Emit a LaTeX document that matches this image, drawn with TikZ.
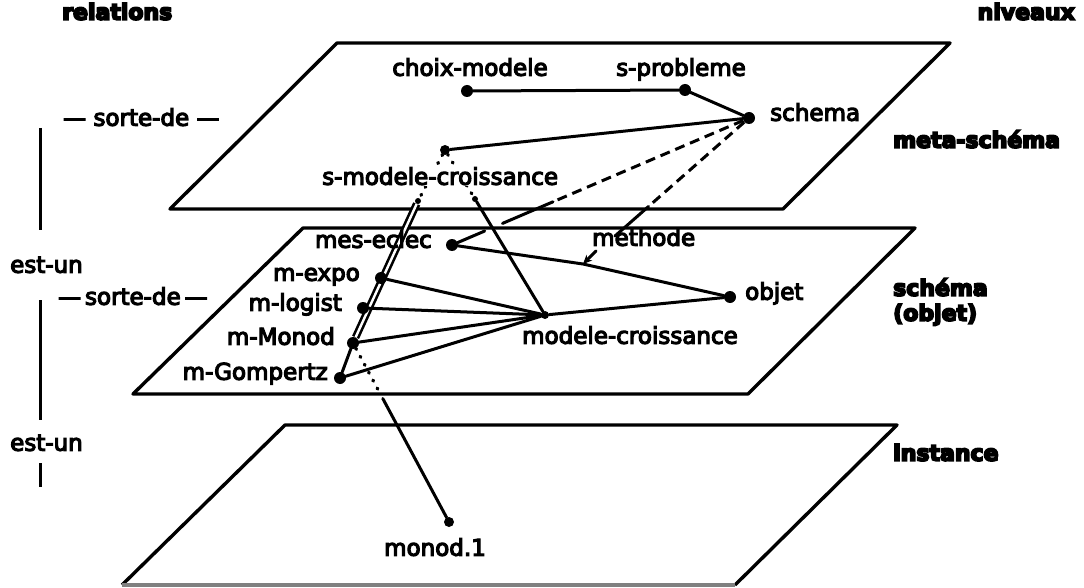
\documentclass[tikz,border=0pt]{standalone}
\usepackage{fontspec}
\setmainfont{DejaVu Sans}
\newfontfamily\lblfont{DejaVu Sans}[FakeBold=5]
\newfontfamily\hdrfont{DejaVu Sans Bold}[FakeBold=8]
\usetikzlibrary{arrows.meta,calc}
\pgfdeclarelayer{bg}
\pgfsetlayers{bg,main}
\begin{document}
\begin{tikzpicture}[x=1pt,y=-1pt,
  plane/.style={line width=3.4pt, line join=round},
  conn/.style={line width=3pt, line cap=round},
  dot/.style={circle, fill, inner sep=0pt, minimum size=12pt},
  sdot/.style={circle, fill, inner sep=0pt, minimum size=6pt},
  lbl/.style={font=\lblfont\fontsize{23}{27}\selectfont, inner sep=0pt},
  hdr/.style={font=\hdrfont\fontsize{22}{26}\selectfont, inner sep=0pt},
  dsh/.style={line width=3pt, dash pattern=on 10pt off 6pt},
  dtt/.style={line width=3.4pt, line cap=round, dash pattern=on 1pt off 8pt},
  dbl/.style={line width=2.6pt, double, double distance=2.4pt},
  sidebar/.style={line width=3pt}
]
\useasboundingbox (0,0) rectangle (1084,588);

% headers
\node[hdr,anchor=mid west] (hRel) at (62,17) {relations};
\node[hdr,anchor=mid east] (hNiv) at (1075,17) {niveaux};
\node[hdr,anchor=mid west] (hMeta) at (893,145) {meta-schéma};
\node[hdr,anchor=mid west] (hSch) at (893,293) {schéma};
\node[hdr,anchor=mid west] (hObj) at (893,318) {(objet)};
\node[hdr,anchor=mid west] (hInst) at (893,458) {instance};

% left relations
\node[lbl,anchor=mid west] (sd1) at (63,123) {— sorte-de —};
\node[lbl,anchor=mid west] (eu1) at (10,270) {est-un};
\node[lbl,anchor=mid west] (sd2) at (58,302) {—\,sorte-de\,—};
\node[lbl,anchor=mid west] (eu2) at (10,448) {est-un};
\coordinate (v1a) at (40,128); \coordinate (v1b) at (40,230);
\coordinate (v2a) at (40,300); \coordinate (v2b) at (40,420);
\coordinate (v3a) at (40,463); \coordinate (v3b) at (40,487);

% dots
\node[dot] (cm) at (467,91) {};
\node[dot] (sp) at (685,90) {};
\node[dot] (sch) at (749,118) {};
\node[dot,minimum size=10pt] (smU) at (445,150) {};
\node[sdot] (smL) at (418,201) {};
\node[sdot] (smR) at (475,199) {};
\node[dot] (mes) at (452,245) {};
\node[dot] (mexpo) at (381,278) {};
\node[dot] (mlog) at (363,308) {};
\node[dot] (mmon) at (353,343) {};
\node[dot] (mgom) at (340,378) {};
\node[dot,minimum size=8pt] (mc) at (545,315) {};
\node[dot] (obj) at (730,297) {};
\node[dot,minimum size=10pt] (mon1) at (449,522) {};

% labels
\node[lbl,anchor=mid] (cmL) at (470,73) {choix-modele};
\node[lbl,anchor=mid] (spL) at (681,73) {s-probleme};
\node[lbl,anchor=mid west] (schL) at (770,118) {schema};
\node[lbl,anchor=mid west,fill=white,inner sep=1pt] (smLbl) at (321,182) {s-modele-croissance};
\node[lbl,anchor=mid east] (mesL) at (432,245) {mes-eclec};
\node[lbl,anchor=mid east] (mexpoL) at (360,278) {m-expo};
\node[lbl,anchor=mid east] (mlogL) at (342,308) {m-logist};
\node[lbl,anchor=mid east] (mmonL) at (335,342) {m-Monod};
\node[lbl,anchor=mid east] (mgomL) at (328,377) {m-Gompertz};
\node[lbl,anchor=mid west] (mcL) at (522,341) {modele-croissance};
\node[lbl,anchor=mid west] (objL) at (745,297) {objet};
\node[lbl,anchor=mid west] (methL) at (592,243) {methode};
\node[lbl,anchor=mid] (mon1L) at (435,553) {monod.1};

% helper coordinates
\coordinate (mtop) at (615,236);
\coordinate (mk) at (583,264);
\coordinate (mtick) at (596,251);
\coordinate (dA) at ($(sch)!0.66!(mes)$);
\coordinate (dB) at ($(sch)!0.83!(mes)$);
\coordinate (dC) at ($(sch)!0.89!(mes)$);
\coordinate (dD) at ($(sch)!0.75!(mtop)$);
\coordinate (dE) at ($(mmon)!0.27!(mon1)$);
\coordinate (dF) at ($(mmon)!0.31!(mon1)$);

\begin{pgfonlayer}{bg}
% planes
\draw[plane] (337,43) -- (950,43) -- (783,209) -- (170,209) -- cycle;
\draw[plane] (303,228) -- (915,228) -- (748,394) -- (133,394) -- cycle;
\draw[plane] (122,585) -- (285,425) -- (897,425) -- (735,585);
\draw[plane,black!50] (735,585) -- (122,585);

% side bars
\draw[sidebar] (v1a) -- (v1b);
\draw[sidebar] (v2a) -- (v2b);
\draw[sidebar] (v3a) -- (v3b);

% meta-schema connectors
\draw[conn] (cm) -- (sp);
\draw[conn] (sp) -- (sch);
\draw[conn] (sch) -- (smU);
\draw[dtt] (smU) -- (smL);
\draw[dtt] (smU) -- (smR);
\draw[dsh] (sch) -- (dA);
\draw[conn] (dA) -- (dB);
\draw[conn] (dC) -- (mes);
\draw[dsh] (sch) -- (dD);
\draw[conn] (dD) -- (mtop);

% schema connectors
\draw[dbl] (smL) -- (mmon);
\draw[conn] (smR) -- (mc);
\draw[conn] (mes) -- (mk) -- (obj);
\draw[conn,-{Stealth[length=9pt,width=8pt]}] (mtick) -- (mk);
\draw[conn] (mexpo) -- (mc);
\draw[conn] (mlog) -- (mc);
\draw[conn] (mmon) -- (mc);
\draw[conn] (mgom) -- (mc);
\draw[conn] (mc) -- (obj);
\draw[conn] (mmon) -- (mgom);
\draw[dtt] (mmon) -- (dE);
\draw[conn] (dF) -- (mon1);
\end{pgfonlayer}
\end{tikzpicture}
\end{document}
